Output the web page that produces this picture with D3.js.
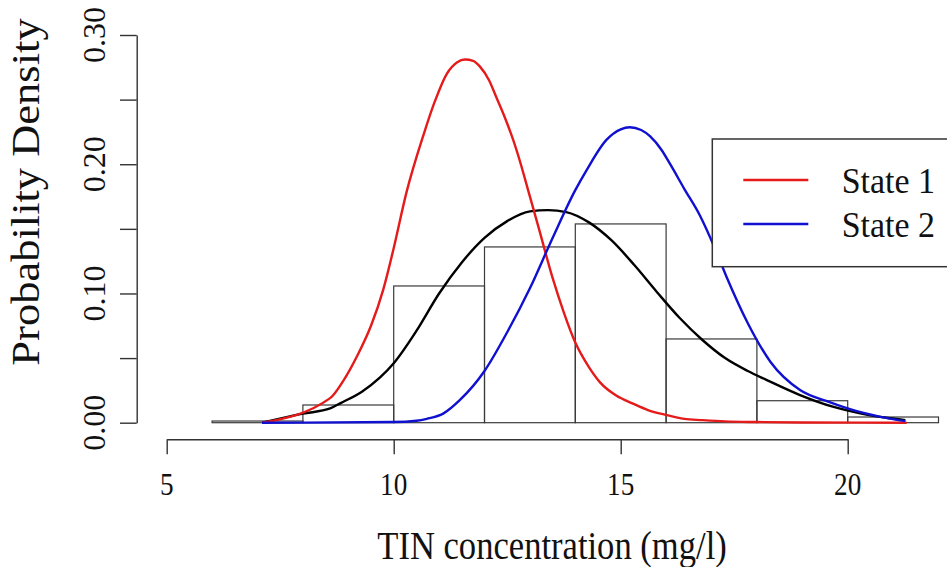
<!DOCTYPE html>
<html><head><meta charset="utf-8">
<script src="https://cdn.jsdelivr.net/npm/d3@7/dist/d3.min.js"></script>
<style>
html,body{margin:0;padding:0;background:#fff;overflow:hidden;}
text{font-family:"Liberation Serif","Times New Roman",serif;fill:#111;}
</style></head>
<body>
<svg id="chart" width="947" height="567"></svg>
<script>
// ---------- data ----------
const binLo = [6, 8, 10, 12, 14, 16, 18, 20];
const binHi = [8, 10, 12, 14, 16, 18, 20, 22];
const binDensity = [0.0013, 0.0137, 0.1058, 0.136, 0.1538, 0.0648, 0.017, 0.0044];

const state1X = [7.1, 8.6, 8.9, 9.2, 9.5, 9.77, 10.0, 10.28, 10.65, 10.9, 11.17, 11.4, 11.57, 11.75, 11.9, 12.1, 12.27, 12.45, 12.63, 12.8, 12.96, 13.2, 13.5, 13.75, 14.0, 14.3, 14.55, 14.9, 15.27, 15.6, 16.0, 16.4, 16.8, 17.3, 18.0, 19.0, 21.3];
const state1Y = [0, 0.019, 0.033, 0.052, 0.075, 0.103, 0.135, 0.178, 0.222, 0.248, 0.270, 0.279, 0.281, 0.280, 0.2755, 0.265, 0.251, 0.236, 0.219, 0.200, 0.180, 0.150, 0.112, 0.085, 0.062, 0.043, 0.031, 0.021, 0.0148, 0.0098, 0.006, 0.003, 0.002, 0.001, 0.0005, 0.0002, 0];

const state2X = [7.1, 10.0, 10.5, 10.73, 11.09, 11.46, 12.0, 12.5, 13.0, 13.5, 14.0, 14.25, 14.69, 15.0, 15.2, 15.45, 15.65, 15.9, 16.09, 16.4, 16.75, 17.05, 17.33, 17.8, 18.3, 18.95, 19.6, 20.2, 20.9, 21.27];
const state2Y = [0, 0.0005, 0.0015, 0.003, 0.007, 0.0176, 0.040, 0.070, 0.104, 0.143, 0.180, 0.1955, 0.219, 0.227, 0.2286, 0.2265, 0.2215, 0.211, 0.200, 0.181, 0.160, 0.137, 0.113, 0.077, 0.047, 0.0253, 0.016, 0.009, 0.0034, 0.0012];

const mixX = [7.1, 8.0, 8.6, 8.82, 9.3, 9.7, 10.0, 10.5, 11.0, 11.5, 12.0, 12.5, 13.0, 13.4, 13.8, 14.3, 14.8, 15.3, 15.8, 16.3, 16.8, 17.3, 17.8, 18.22, 18.95, 19.67, 20.3, 20.93, 21.27];
const mixY = [0, 0.007, 0.011, 0.015, 0.024, 0.035, 0.046, 0.071, 0.100, 0.124, 0.143, 0.156, 0.1635, 0.1645, 0.163, 0.155, 0.141, 0.122, 0.101, 0.081, 0.064, 0.050, 0.040, 0.033, 0.0214, 0.0124, 0.007, 0.0034, 0.002];

const xTicks = [5, 10, 15, 20];
const yTicks = [0, 0.05, 0.10, 0.15, 0.20, 0.25, 0.30];
const yTickLabels = [0, 0.10, 0.20, 0.30];
const legendLabels = ["State 1", "State 2"];
const legendColors = ["#e51a1a", "#1010d0"];
const xTitle = "TIN concentration (mg/l)";
const yTitle = "Probability Density";

// ---------- chart ----------
const svg = d3.select("#chart");
const x = d3.scaleLinear().domain([5, 20]).range([166.7, 847.7]);
const y = d3.scaleLinear().domain([0, 0.3]).range([422.7, 35]);
const axisColor = "#333";

// histogram
svg.append("g").selectAll("rect").data(binLo.map((lo, i) => ({lo, hi: binHi[i], d: binDensity[i]})))
  .join("rect")
  .attr("x", d => x(d.lo)).attr("width", d => x(d.hi) - x(d.lo))
  .attr("y", d => y(d.d)).attr("height", d => y(0) - y(d.d))
  .attr("fill", "none").attr("stroke", "#3a3a3a").attr("stroke-width", 1.2);

// curves
const line = d3.line().x(d => x(d[0])).y(d => y(d[1])).curve(d3.curveMonotoneX);
const series = [
  {xs: mixX, ys: mixY, color: "#000"},
  {xs: state1X, ys: state1Y, color: legendColors[0]},
  {xs: state2X, ys: state2Y, color: legendColors[1]}
];
series.forEach(s => {
  svg.append("path").datum(s.xs.map((v, i) => [v, s.ys[i]]))
    .attr("d", line).attr("fill", "none").attr("stroke", s.color)
    .attr("stroke-width", 2.4).attr("stroke-linejoin", "round");
});

// y axis
const gy = svg.append("g").attr("transform", "translate(136.7,0)")
  .call(d3.axisLeft(y).tickValues(yTicks).tickFormat("").tickSize(16.7).tickSizeOuter(0));
gy.selectAll("path,line").attr("stroke", axisColor).attr("stroke-width", 1.4);

yTickLabels.forEach(v => {
  svg.append("g").attr("transform", `translate(105,${y(v)}) rotate(-90)`)
    .append("text").attr("text-anchor", "middle").attr("font-size", 32)
    .text(d3.format(".2f")(v));
});

// x axis
const gx = svg.append("g").attr("transform", "translate(0,439.3)")
  .call(d3.axisBottom(x).tickValues(xTicks).tickFormat("").tickSize(15).tickSizeOuter(0));
gx.selectAll("path,line").attr("stroke", axisColor).attr("stroke-width", 1.4);

xTicks.forEach(v => {
  svg.append("g").attr("transform", `translate(${x(v)},495) scale(0.85,1)`)
    .append("text").attr("text-anchor", "middle").attr("font-size", 32).text(v);
});

// titles
svg.append("g").attr("transform", "translate(552,559) scale(0.865,1)")
  .append("text").attr("text-anchor", "middle").attr("font-size", 40).text(xTitle);
svg.append("g").attr("transform", "translate(39,192) scale(0.9,1) rotate(-90)")
  .append("text").attr("text-anchor", "middle").attr("font-size", 44.5).text(yTitle);

// legend
const lg = svg.append("g");
lg.append("rect").attr("x", 712.3).attr("y", 139).attr("width", 260).attr("height", 127.7)
  .attr("fill", "#fff").attr("stroke", "#333").attr("stroke-width", 1.5);
legendLabels.forEach((lab, i) => {
  const ly = 180 + i * 44;
  lg.append("line").attr("x1", 743.3).attr("x2", 808.3).attr("y1", ly).attr("y2", ly)
    .attr("stroke", legendColors[i]).attr("stroke-width", 2.4);
  lg.append("g").attr("transform", `translate(841.7,${ly + 13}) scale(0.97,1)`)
    .append("text").attr("font-size", 35).text(lab);
});
</script>
</body></html>
